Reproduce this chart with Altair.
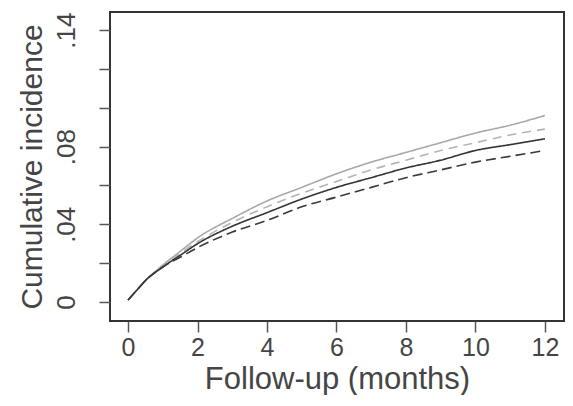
import pandas as pd
import altair as alt

# follow-up time (months)
months = [0, 0.25, 0.5, 1, 1.5, 2, 3, 4, 5, 6, 7, 8, 9, 10, 11, 12]

# cumulative incidence per group
light_solid = [0.001, 0.006, 0.011, 0.019, 0.026, 0.033, 0.043, 0.052, 0.059, 0.066, 0.072, 0.077, 0.082, 0.087, 0.091, 0.096]
light_dashed = [0.001, 0.006, 0.011, 0.018, 0.025, 0.031, 0.041, 0.049, 0.056, 0.062, 0.068, 0.073, 0.078, 0.082, 0.086, 0.089]
dark_solid = [0.001, 0.006, 0.011, 0.018, 0.024, 0.030, 0.039, 0.046, 0.053, 0.059, 0.064, 0.069, 0.073, 0.078, 0.081, 0.084]
dark_dashed = [0.001, 0.006, 0.011, 0.018, 0.023, 0.028, 0.036, 0.042, 0.049, 0.054, 0.059, 0.064, 0.068, 0.072, 0.075, 0.078]

series = {
    "Group 1": light_solid,
    "Group 2": light_dashed,
    "Group 3": dark_solid,
    "Group 4": dark_dashed,
}
groups = list(series.keys())

y_ticks = [0, 0.02, 0.04, 0.06, 0.08, 0.10, 0.12, 0.14]
x_ticks = [0, 2, 4, 6, 8, 10, 12]

rows = []
for name, vals in series.items():
    for m, v in zip(months, vals):
        rows.append({"month": m, "incidence": v, "group": name})
df = pd.DataFrame(rows)

text_color = "#454545"

chart = alt.Chart(df).mark_line(interpolate="monotone").encode(
    x=alt.X("month:Q", title="Follow-up (months)",
            scale=alt.Scale(domain=[-0.52, 12.55], nice=False, zero=False),
            axis=alt.Axis(values=x_ticks, grid=False, domain=False,
                          tickSize=11, tickWidth=1.5, tickColor="#555",
                          labelFontSize=25, labelColor=text_color, labelPadding=3,
                          titleFontSize=31, titleFontWeight="normal", titleColor=text_color,
                          titlePadding=4)),
    y=alt.Y("incidence:Q", title="Cumulative incidence",
            scale=alt.Scale(domain=[-0.0098, 0.1493], nice=False, zero=False),
            axis=alt.Axis(values=y_ticks, grid=False, domain=False,
                          tickSize=11, tickWidth=1.5, tickColor="#555",
                          labelExpr="datum.value == 0 ? '0' : (datum.value == 0.04 || datum.value == 0.08 || datum.value == 0.14) ? replace(format(datum.value, '.2f'), '0.', '.') : ''",
                          labelAngle=270, labelAlign="center", labelBaseline="bottom",
                          labelFontSize=26, labelColor=text_color, labelPadding=20,
                          labelOverlap=False,
                          titleFontSize=30, titleFontWeight="normal", titleColor=text_color,
                          titlePadding=6)),
    color=alt.Color("group:N", legend=None,
                    scale=alt.Scale(domain=groups, range=["#a8a8a8", "#b4b4b4", "#333333", "#3a3a3a"])),
    strokeDash=alt.StrokeDash("group:N", legend=None,
                              scale=alt.Scale(domain=groups, range=[[1, 0], [9, 6], [1, 0], [10, 5]])),
    strokeWidth=alt.StrokeWidth("group:N", legend=None,
                                scale=alt.Scale(domain=groups, range=[1.6, 1.6, 2.0, 2.4])),
).properties(
    width=454,
    height=309,
    padding={"left": 102, "top": 4, "right": 1, "bottom": 74},
    autosize=alt.AutoSizeParams(type="none"),
).configure_view(
    stroke="#333333",
    strokeWidth=2,
).configure_axis(
    labelFont="Liberation Sans",
    titleFont="Liberation Sans",
)

chart.save("out.html", embed_options={"renderer": "svg", "actions": False})
